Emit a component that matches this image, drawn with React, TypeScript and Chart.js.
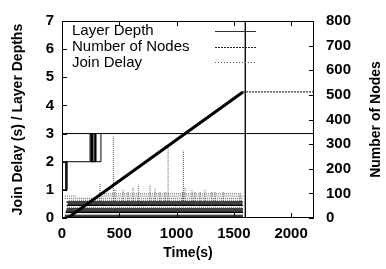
import React, { useEffect, useRef } from "react";
import { Chart, registerables } from "chart.js";
Chart.register(...registerables);

const FONT = '"Liberation Sans", Arial, Helvetica, sans-serif';

const seriesLabels = ["Layer Depth", "Number of Nodes", "Join Delay"];

// Layer depth path; a null depth breaks the line
const layerTime = [0, 45, 45, 35, 35, 35, 0, 340, 340, 245, 245, 255, 255, 262, 262, 270, 270, 280, 280, 290, 290, 297, 297, 297, 340, 340, 340, 0, 1600, 1600, 1600, 1600, 2200];
const layerDepth = [1, 1, 2, 2, 1, null, 2, 2, null, 2, 3, 3, 2, 2, 3, 3, 2, 2, 3, 3, 2, 2, 3, null, 2, 3, null, 3, 3, -1, 8, 3, 3];

// Number of nodes (right axis)
const nodeTime = [50, 1580, 2200];
const nodeCount = [0, 512, 512];

// Join delay: dense horizontal runs of samples
const delayRunLevel = [0.02, 0.07, 0.13, 0.2, 0.25, 0.32, 0.38, 0.45, 0.5, 0.57, 0.63, 0.7, 0.78, 0.78, 0.86];
const delayRunStart = [20, 25, 30, 30, 35, 40, 45, 40, 50, 40, 60, 25, 25, 300, 350];
const delayRunEnd = [1580, 1580, 1578, 1580, 1580, 1580, 1575, 1580, 1575, 1578, 1570, 1580, 130, 1580, 1560];
// Join delay spikes
const delaySpikeTime = [332, 448, 463, 533, 576, 620, 666, 768, 812, 855, 899, 926, 1052, 1060, 1074, 1135, 1161, 1205, 1248, 1307, 1336, 1408, 1554];
const delaySpikePeak = [1.23, 2.9, 1.0, 1.0, 0.95, 1.1, 1.18, 1.18, 1.05, 0.95, 0.95, 2.5, 0.95, 2.4, 1.1, 1.0, 0.95, 0.95, 1.0, 0.94, 0.95, 0.95, 0.89];
const delaySpikeBase = [0.6];

const DENSE_LEVELS = [0.02, 0.07, 0.2, 0.25, 0.32, 0.45, 0.5, 0.57];

const xTicks = [0, 500, 1000, 1500, 2000];

function buildLayer() {
  return layerTime.map((t, i) => ({ x: t, y: layerDepth[i] }));
}
function buildNodes() {
  return nodeTime.map((t, i) => ({ x: t, y: nodeCount[i] }));
}
function buildDelay() {
  const pts: any[] = [];
  delayRunLevel.forEach((lv, i) => {
    pts.push({ x: delayRunStart[i], y: lv });
    pts.push({ x: delayRunEnd[i], y: lv });
    pts.push({ x: delayRunEnd[i], y: null });
  });
  delaySpikeTime.forEach((t, i) => {
    pts.push({ x: t, y: delaySpikeBase[0] });
    pts.push({ x: t, y: delaySpikePeak[i] });
    pts.push({ x: t, y: null });
  });
  return pts;
}

const isDense = (c: any) => c.p0.parsed.y === c.p1.parsed.y && DENSE_LEVELS.includes(c.p0.parsed.y);

const gnuplotPlugin = {
  id: "gnuplotDecor",
  afterDraw(chart: any) {
    const { ctx, chartArea: a, scales } = chart;
    ctx.save();
    ctx.strokeStyle = "#000";
    ctx.fillStyle = "#000";
    ctx.lineWidth = 1;
    ctx.setLineDash([]);
    // frame
    ctx.strokeRect(a.left + 0.5, a.top + 0.5, a.right - a.left - 1, a.bottom - a.top - 1);
    // inward tick marks
    const TL = 5;
    ctx.beginPath();
    scales.x.ticks.forEach((t: any) => {
      const px = Math.round(scales.x.getPixelForValue(t.value)) + 0.5;
      ctx.moveTo(px, a.bottom);
      ctx.lineTo(px, a.bottom - TL);
      ctx.moveTo(px, a.top);
      ctx.lineTo(px, a.top + TL);
    });
    scales.y.ticks.forEach((t: any) => {
      const py = Math.round(scales.y.getPixelForValue(t.value)) + 0.5;
      ctx.moveTo(a.left, py);
      ctx.lineTo(a.left + TL, py);
    });
    scales.y1.ticks.forEach((t: any) => {
      const py = Math.round(scales.y1.getPixelForValue(t.value)) + 0.5;
      ctx.moveTo(a.right, py);
      ctx.lineTo(a.right - TL, py);
    });
    ctx.stroke();

    // axis titles
    const midY = (a.top + a.bottom) / 2;
    ctx.font = `bold 14px ${FONT}`;
    ctx.textAlign = "center";
    ctx.textBaseline = "middle";
    ctx.save();
    ctx.translate(18, midY);
    ctx.rotate(-Math.PI / 2);
    ctx.fillText("Join Delay (s) / Layer Depths", 0, 0);
    ctx.restore();
    ctx.save();
    ctx.translate(376, midY);
    ctx.rotate(-Math.PI / 2);
    ctx.fillText("Number of Nodes", 0, 0);
    ctx.restore();
    ctx.fillText("Time(s)", (a.left + a.right) / 2, 253);

    // legend (gnuplot style: text left, sample right)
    ctx.font = `15px ${FONT}`;
    ctx.textAlign = "left";
    const samples = [
      { dash: [], color: "#333", w: 1 },
      { dash: [2, 1], color: "#222", w: 1 },
      { dash: [1, 2], color: "#555", w: 1 },
    ];
    chart.data.datasets.forEach((ds: any, i: number) => {
      const y = a.top + 10 + i * 15.7;
      ctx.fillStyle = "#000";
      ctx.fillText(ds.label, a.left + 10, y);
      const s = samples[i];
      ctx.beginPath();
      ctx.setLineDash(s.dash);
      ctx.strokeStyle = s.color;
      ctx.lineWidth = s.w;
      ctx.moveTo(a.right - 99, Math.round(y) + 0.5);
      ctx.lineTo(a.right - 58, Math.round(y) + 0.5);
      ctx.stroke();
    });
    ctx.restore();
  },
};

export default function App() {
  const ref = useRef<HTMLCanvasElement | null>(null);
  useEffect(() => {
    if (!ref.current) return;
    Chart.defaults.font.family = FONT;
    const tickFont = { family: FONT, size: 15, weight: "bold" as any };
    const chart = new Chart(ref.current, {
      type: "line",
      data: {
        datasets: [
          {
            label: seriesLabels[0],
            data: buildLayer() as any,
            yAxisID: "y",
            borderColor: "#000",
            borderWidth: 1,
            pointRadius: 0,
            tension: 0,
            spanGaps: false,
          },
          {
            label: seriesLabels[1],
            data: buildNodes() as any,
            yAxisID: "y1",
            borderColor: "#000",
            borderWidth: 1,
            pointRadius: 0,
            tension: 0,
            segment: {
              borderWidth: (c: any) => (c.p1.parsed.y > c.p0.parsed.y ? 3 : 1),
              borderDash: (c: any) => (c.p1.parsed.y > c.p0.parsed.y ? [] : [2, 1]),
            },
          },
          {
            label: seriesLabels[2],
            data: buildDelay() as any,
            yAxisID: "y",
            borderColor: "#444",
            borderWidth: 1,
            pointRadius: 0,
            tension: 0,
            spanGaps: false,
            segment: {
              borderDash: (c: any) => (isDense(c) ? [] : [1, 1]),
              borderColor: (c: any) => (isDense(c) ? "#000" : "#555"),
              borderWidth: (c: any) => (isDense(c) ? 1.4 : 1),
            },
          },
        ],
      },
      options: {
        responsive: false,
        animation: false,
        layout: { padding: { top: 12, left: 0, right: 0, bottom: 0 } },
        plugins: { legend: { display: false }, tooltip: { enabled: false } },
        scales: {
          x: {
            type: "linear",
            min: 0,
            max: 2200,
            grid: { display: false, drawTicks: false },
            border: { display: false },
            afterBuildTicks: (s: any) => {
              s.ticks = xTicks.map((v) => ({ value: v }));
            },
            ticks: {
              color: "#000",
              font: tickFont,
              padding: 7,
              maxRotation: 0,
              autoSkip: false,
              callback: (v: any) => String(v),
            },
            afterFit: (s: any) => {
              s.height = 51;
            },
          },
          y: {
            position: "left",
            min: 0,
            max: 7,
            grid: { display: false, drawTicks: false },
            border: { display: false },
            ticks: { stepSize: 1, color: "#000", font: tickFont, padding: 8, callback: (v: any) => String(v) },
            afterFit: (s: any) => {
              s.width = 62;
            },
          },
          y1: {
            position: "right",
            min: 0,
            max: 800,
            grid: { display: false, drawTicks: false },
            border: { display: false },
            ticks: { stepSize: 100, color: "#000", font: tickFont, padding: 12, callback: (v: any) => String(v) },
            afterFit: (s: any) => {
              s.width = 72;
            },
          },
        },
      },
      plugins: [gnuplotPlugin],
    });
    return () => chart.destroy();
  }, []);
  return (
    <div style={{ position: "absolute", left: 0, top: 0, width: 386, height: 269, background: "#fff" }}>
      <canvas ref={ref} width={386} height={269} style={{ display: "block" }} />
    </div>
  );
}
